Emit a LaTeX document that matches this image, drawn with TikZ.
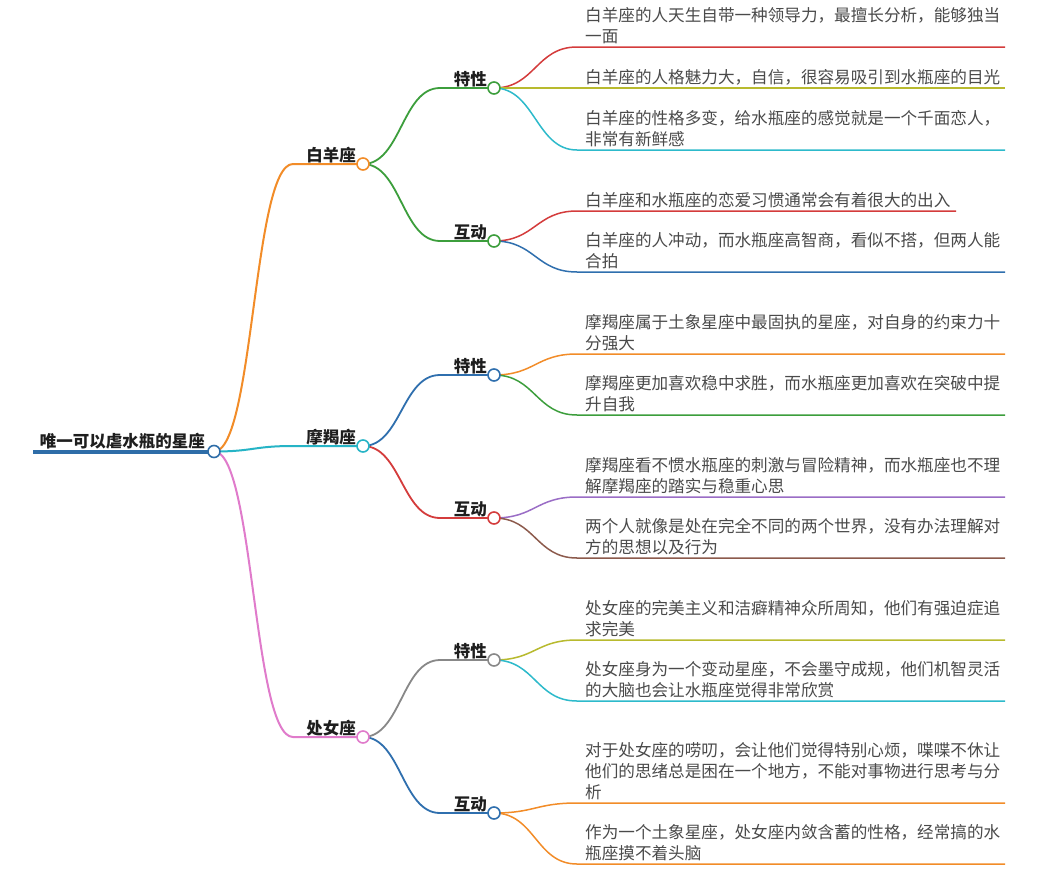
\documentclass[tikz,border=0pt]{standalone}
\usepackage{fontspec}
\setmainfont{Noto Sans CJK SC}
\usetikzlibrary{backgrounds}
\definecolor{cRoot}{HTML}{2E6DA8}
\definecolor{cOrange}{HTML}{F28C28}
\definecolor{cTeal}{HTML}{26B4C6}
\definecolor{cPink}{HTML}{E07BCB}
\definecolor{cGreen}{HTML}{3C9E3C}
\definecolor{cRed}{HTML}{D43C3C}
\definecolor{cOlive}{HTML}{B8BA2E}
\definecolor{cCyan}{HTML}{2DBACB}
\definecolor{cBlue}{HTML}{2F6FAE}
\definecolor{cPurple}{HTML}{9A6DC6}
\definecolor{cBrown}{HTML}{8C5A4C}
\definecolor{cGray}{HTML}{888888}
\definecolor{cText}{HTML}{4A4A4A}
\definecolor{cLab}{HTML}{1E1E1E}
\tikzset{
  dot/.style={circle, draw, fill=white, line width=1.6, minimum size=12, inner sep=0},
  lab/.style={font=\fontsize{16.5}{20}\selectfont\bfseries, text=cLab, inner sep=0, anchor=base east},
  leaf/.style={font=\fontsize{16.6}{21.2}\selectfont, text=cText, inner sep=0, anchor=south west, align=left},
  edgeA/.style={line width=2},
  edgeB/.style={line width=1.8},
  edgeC/.style={line width=1.5},
}
\begin{document}
\begin{tikzpicture}[x=1pt,y=-1pt]
\useasboundingbox (0,0) rectangle (1057,878);

% circles
\node[dot, draw=cRoot] (R) at (214,451.5) {};
\node[dot, draw=cOrange] (A) at (363,164) {};
\node[dot, draw=cTeal] (C) at (363,446) {};
\node[dot, draw=cPink] (V) at (363,737) {};
\node[dot, draw=cGreen] (AT) at (494,88) {};
\node[dot, draw=cGreen] (AH) at (494,241) {};
\node[dot, draw=cBlue] (CT) at (494,375) {};
\node[dot, draw=cRed] (CH) at (494,518) {};
\node[dot, draw=cGray] (VT) at (494,660) {};
\node[dot, draw=cBlue] (VH) at (494,813) {};

% labels
\node[lab] (Rt) at (205,447.5) {唯一可以虐水瓶的星座};
\node[lab] (At) at (356,161) {白羊座};
\node[lab] (Ct) at (356,443) {摩羯座};
\node[lab] (Vt) at (356,734) {处女座};
\node[lab] (ATt) at (487,85) {特性};
\node[lab] (AHt) at (487,238) {互动};
\node[lab] (CTt) at (487,372) {特性};
\node[lab] (CHt) at (487,515) {互动};
\node[lab] (VTt) at (487,657) {特性};
\node[lab] (VHt) at (487,810) {互动};

% coordinates
\coordinate (R0) at (33,451.5);
\coordinate (As) at (293,164);
\coordinate (Cs) at (293,446);
\coordinate (Vs) at (293,737);
\coordinate (ATs) at (440,88);
\coordinate (AHs) at (440,241);
\coordinate (CTs) at (440,375);
\coordinate (CHs) at (440,518);
\coordinate (VTs) at (440,660);
\coordinate (VHs) at (440,813);
\foreach \n/\y in {1/47,2/88,3/150,4/211,5/272,6/354,7/415,8/497,9/558,10/640,11/701,12/803,13/864}{
  \coordinate (L\n s) at (577,\y);
  \coordinate (L\n e) at (1005,\y);
}
\coordinate (L4e) at (956,211);

% leaves
\node[leaf] (L1) at (585,44.5) {白羊座的人天生自带一种领导力，最擅长分析，能够独当\\一面};
\node[leaf] (L2) at (585,85.5) {白羊座的人格魅力大，自信，很容易吸引到水瓶座的目光};
\node[leaf] (L3) at (585,147.5) {白羊座的性格多变，给水瓶座的感觉就是一个千面恋人，\\非常有新鲜感};
\node[leaf] (L4) at (585,208.5) {白羊座和水瓶座的恋爱习惯通常会有着很大的出入};
\node[leaf] (L5) at (585,269.5) {白羊座的人冲动，而水瓶座高智商，看似不搭，但两人能\\合拍};
\node[leaf] (L6) at (585,351.5) {摩羯座属于土象星座中最固执的星座，对自身的约束力十\\分强大};
\node[leaf] (L7) at (585,412.5) {摩羯座更加喜欢稳中求胜，而水瓶座更加喜欢在突破中提\\升自我};
\node[leaf] (L8) at (585,494.5) {摩羯座看不惯水瓶座的刺激与冒险精神，而水瓶座也不理\\解摩羯座的踏实与稳重心思};
\node[leaf] (L9) at (585,555.5) {两个人就像是处在完全不同的两个世界，没有办法理解对\\方的思想以及行为};
\node[leaf] (L10) at (585,637.5) {处女座的完美主义和洁癖精神众所周知，他们有强迫症追\\求完美};
\node[leaf] (L11) at (585,698.5) {处女座身为一个变动星座，不会墨守成规，他们机智灵活\\的大脑也会让水瓶座觉得非常欣赏};
\node[leaf] (L12) at (585,800.5) {对于处女座的唠叨，会让他们觉得特别心烦，喋喋不休让\\他们的思绪总是困在一个地方，不能对事物进行思考与分\\析};
\node[leaf] (L13) at (585,861.5) {作为一个土象星座，处女座内敛含蓄的性格，经常搞的水\\瓶座摸不着头脑};

\begin{scope}[on background layer]
\fill[white] (0,0) rectangle (1057,878);
\draw[cRoot, line width=4] (R0) -- (R.center);
\draw[edgeA, cOrange] (R.center) .. controls +(40,0) and +(-40,0) .. (As) -- (A.center);
\draw[edgeA, cTeal] (R.center) .. controls +(40,0) and +(-40,0) .. (Cs) -- (C.center);
\draw[edgeA, cPink] (R.center) .. controls +(40,0) and +(-40,0) .. (Vs) -- (V.center);

\draw[edgeB, cGreen] (A.center) .. controls +(38,0) and +(-38,0) .. (ATs) -- (AT.center);
\draw[edgeB, cGreen] (A.center) .. controls +(38,0) and +(-38,0) .. (AHs) -- (AH.center);
\draw[edgeB, cBlue] (C.center) .. controls +(38,0) and +(-38,0) .. (CTs) -- (CT.center);
\draw[edgeB, cRed] (C.center) .. controls +(38,0) and +(-38,0) .. (CHs) -- (CH.center);
\draw[edgeB, cGray] (V.center) .. controls +(38,0) and +(-38,0) .. (VTs) -- (VT.center);
\draw[edgeB, cBlue] (V.center) .. controls +(38,0) and +(-38,0) .. (VHs) -- (VH.center);

\foreach \p/\n/\c in {AT/1/cRed, AT/2/cOlive, AT/3/cCyan, AH/4/cRed, AH/5/cBlue,
  CT/6/cOrange, CT/7/cGreen, CH/8/cPurple, CH/9/cBrown,
  VT/10/cOlive, VT/11/cCyan, VH/12/cOrange, VH/13/cOrange}{
  \draw[edgeC, \c] (\p.center) .. controls +(41,0) and +(-41,0) .. (L\n s) -- (L\n e);
}
\end{scope}
\end{tikzpicture}
\end{document}
